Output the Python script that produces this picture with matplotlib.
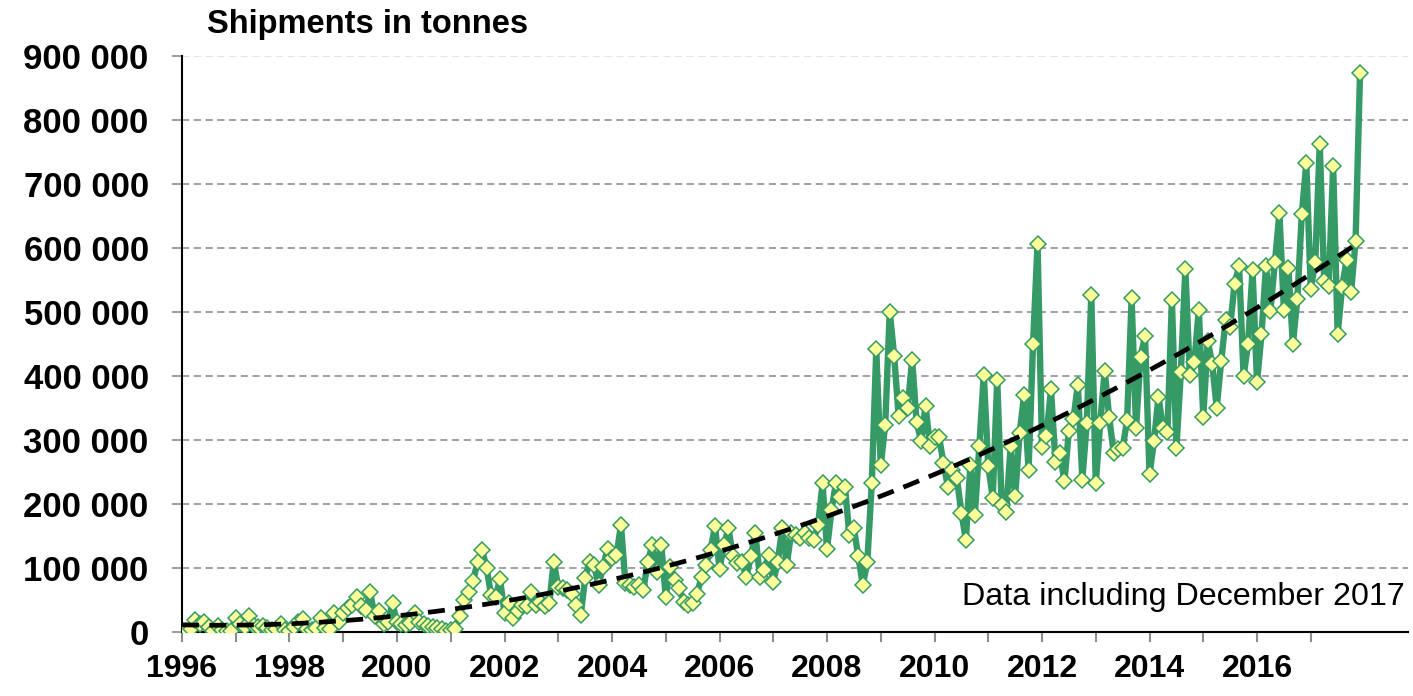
import numpy as np
import matplotlib
matplotlib.use("Agg")
import matplotlib.pyplot as plt
from matplotlib.ticker import FuncFormatter

plt.rcParams['font.family'] = ['Liberation Sans', 'DejaVu Sans']

# monthly shipments (tonnes), Jan..Dec
t1996 = [0, 2000, 4000, 18000, 12000, 16000, 8000, 2000, 10000, 3000, 1000, 2000]
t1997 = [22000, 12000, 8000, 25000, 9000, 7000, 10000, 6000, 3000, 5000, 12000, 3000]
t1998 = [2000, 8000, 15000, 20000, 5000, 3000, 6000, 22000, 6000, 4000, 30000, 16000]
t1999 = [30000, 38000, 42000, 55000, 40000, 35000, 62000, 25000, 33000, 12000, 15000, 45000]
t2000 = [15000, 13000, 11000, 14000, 30000, 16000, 12000, 9000, 8000, 6000, 4000, 2000]
t2001 = [3000, 5000, 25000, 50000, 62000, 80000, 110000, 128000, 100000, 58000, 55000, 82000]
t2002 = [30000, 45000, 22000, 32000, 42000, 40000, 62000, 42000, 47000, 40000, 45000, 110000]
t2003 = [70000, 68000, 66000, 60000, 42000, 26000, 84000, 110000, 105000, 73000, 102000, 130000]
t2004 = [115000, 120000, 167000, 76000, 73000, 71000, 73000, 66000, 110000, 136000, 94000, 136000]
t2005 = [55000, 102000, 81000, 68000, 47000, 42000, 45000, 60000, 86000, 105000, 128000, 165000]
t2006 = [99000, 136000, 162000, 118000, 107000, 110000, 86000, 118000, 154000, 86000, 97000, 120000]
t2007 = [78000, 110000, 162000, 105000, 154000, 151000, 146000, 154000, 146000, 143000, 167000, 232000]
t2008 = [130000, 190000, 233000, 211000, 227000, 151000, 162000, 118000, 73000, 110000, 233000, 442000]
t2009 = [260000, 324000, 500000, 431000, 337000, 365000, 349000, 425000, 328000, 298000, 353000, 290000]
t2010 = [305000, 305000, 264000, 226000, 253000, 240000, 186000, 144000, 260000, 183000, 290000, 402000]
t2011 = [259000, 210000, 394000, 198000, 188000, 290000, 212000, 310000, 370000, 253000, 450000, 606000]
t2012 = [289000, 306000, 379000, 266000, 280000, 235000, 314000, 332000, 386000, 238000, 327000, 527000]
t2013 = [232000, 327000, 408000, 335000, 280000, 285000, 287000, 331000, 521000, 319000, 430000, 462000]
t2014 = [246000, 298000, 367000, 319000, 312000, 519000, 287000, 406000, 567000, 401000, 421000, 503000]
t2015 = [336000, 455000, 418000, 350000, 423000, 487000, 477000, 544000, 571000, 399000, 450000, 565000]
t2016 = [390000, 465000, 571000, 502000, 578000, 654000, 503000, 569000, 449000, 520000, 653000, 732000]
t2017 = [536000, 578000, 762000, 548000, 541000, 727000, 465000, 539000, 581000, 531000, 610000, 873000]

years = list(range(1996, 2018))
tonnes = np.array(t1996 + t1997 + t1998 + t1999 + t2000 + t2001 + t2002 + t2003
                  + t2004 + t2005 + t2006 + t2007 + t2008 + t2009 + t2010 + t2011
                  + t2012 + t2013 + t2014 + t2015 + t2016 + t2017, dtype=float)
dates = 1996 + np.arange(len(tonnes)) / 12.0

# polynomial trend line (like the Excel one)
coef = np.polyfit(dates - 1996, tonnes, 2)
trend = np.polyval(coef, dates - 1996)

fig = plt.figure(figsize=(14.13, 6.96), dpi=100)
ax = fig.add_axes([0.1288, 0.092, 0.8677, 0.828])

green = '#369a66'
ax.plot(dates, tonnes, color=green, lw=4.6, zorder=3,
        marker='D', ms=7.8, mfc='#ffff99', mec=green, mew=1.1)
ax.plot(dates, trend, color='black', lw=3.4, ls=(0, (3.6, 2.2)), zorder=4)

ax.set_xlim(1996, 2018.81)
ax.set_ylim(0, 900000)

ax.set_yticks(np.arange(0, 900001, 100000))
ax.yaxis.set_major_formatter(FuncFormatter(lambda v, p: f"{int(v):,}".replace(',', ' ')))
ax.set_xticks(years)
ax.set_xticklabels([str(y) if y % 2 == 0 else '' for y in years])

ax.grid(axis='y', color='#9a9a9a', ls=(0, (4, 2.5)), lw=1.3, zorder=0)
ax.get_ygridlines()[-1].set_color('#e2e2e2')
ax.get_ygridlines()[0].set_visible(False)

for s in ['top', 'right']:
    ax.spines[s].set_visible(False)
ax.spines['left'].set_linewidth(1.5)
ax.spines['bottom'].set_linewidth(1.5)

ax.tick_params(axis='y', length=7, width=1.2, color='#8c8c8c', pad=17,
               labelsize=25)
ax.tick_params(axis='x', length=7, width=1.5, color='#8c8c8c', pad=9,
               labelsize=23, direction='out')
for lab in ax.get_yticklabels() + ax.get_xticklabels():
    lab.set_fontweight('bold')

fig.text(207 / 1413, 1 - 25 / 696, 'Shipments in tonnes', fontsize=23.5,
         fontweight='bold', va='center', ha='left')
ax.text(0.9975, 0.035, 'Data including December 2017', transform=ax.transAxes,
        fontsize=23.2, ha='right', va='bottom')

fig.savefig('out.png', dpi=100)
